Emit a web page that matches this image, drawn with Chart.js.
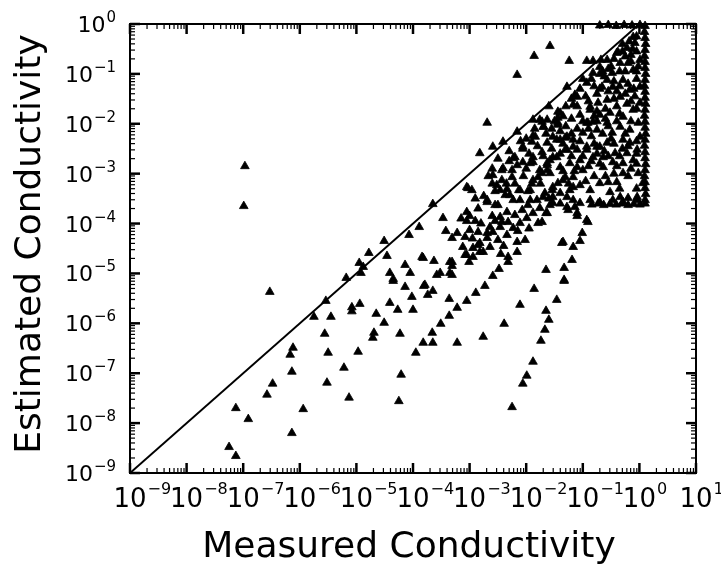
<!DOCTYPE html>
<html>
<head>
<meta charset="utf-8">
<script src="https://cdn.jsdelivr.net/npm/chart.js@4.4.0/dist/chart.umd.min.js"></script>
<style>
  html, body { margin: 0; padding: 0; background: #fff; }
  #wrap { width: 721px; height: 565px; }
</style>
</head>
<body>
<div id="wrap"><canvas id="chart"></canvas></div>
<script>
// log10 of [measured, estimated], grouped by region
const leftScatter = [
  [-6.97,-2.85],[-6.99,-3.65],[-6.53,-5.37],[-5.54,-5.55],[-5.08,-5.68],[-5.08,-5.76],
  [-5.75,-5.87],[-5.45,-5.87],[-5.56,-6.21],[-6.12,-6.49],[-6.17,-6.63],[-5.50,-6.59],
  [-4.97,-6.57],[-6.14,-6.97],[-5.22,-6.89],[-6.48,-7.21],[-5.52,-7.19],[-6.58,-7.43],
  [-5.13,-7.49],[-7.13,-7.70],[-5.94,-7.72],[-6.91,-7.92],[-6.14,-8.20],[-7.25,-8.48],
  [-7.13,-8.66]
];
const middleScatter = [
  [-3.65,-3.61],[-3.47,-3.89],[-3.42,-4.15],[-3.31,-4.29],[-3.89,-4.07],[-4.07,-4.23],
  [-4.51,-4.35],[-4.78,-4.59],[-4.46,-4.65],[-4.95,-4.79],[-4.92,-4.99],[-5.18,-5.09],
  [-4.94,-5.61],[-4.41,-5.59],[-4.65,-5.81],[-4.51,-5.99],[-4.69,-6.19],[-4.71,-6.29],
  [-4.23,-6.21],[-4.27,-5.73],[-4.00,-5.73],[-4.02,-5.47],[-4.41,-4.99],[-4.35,-5.11],
  [-4.14,-5.27],[-4.05,-4.99],[-4.14,-4.83],[-3.84,-4.67],[-3.63,-4.75],[-3.58,-5.03],
  [-3.31,-4.77],[-3.31,-4.85],[-3.31,-5.03],[-3.81,-5.25],[-3.65,-5.35],[-3.74,-5.43],
  [-3.36,-5.51],[-3.22,-5.69],[-3.36,-5.85],[-3.51,-6.01],[-3.66,-6.19],[-3.79,-5.23],
  [-4.35,-5.15],[-3.05,-5.55],[-2.89,-5.39],[-2.73,-5.25],[-3.82,-6.39],[-3.65,-6.39],
  [-3.22,-6.39],[-2.76,-6.27],[-3.95,-6.59],[-2.39,-6.01],[-2.11,-5.63],[-1.86,-5.31],
  [-1.33,-5.15],[-1.46,-5.53],[-1.65,-5.75],[-1.60,-5.93],[-1.67,-6.13],[-1.74,-6.35],
  [-1.88,-6.77],[-1.99,-7.05],[-2.06,-7.21],[-2.25,-7.68],[-4.21,-7.03],[-4.25,-7.56],
  [-3.35,-4.77],[-3.05,-4.63],[-3.01,-4.77],[-2.82,-4.57],[-2.45,-4.61],[-2.16,-4.57],
  [-2.32,-4.77],[-2.48,-4.91],[-2.59,-5.05],[-3.52,-4.99],[-1.65,-4.93],[-1.33,-4.89],
  [-1.19,-4.73],[-1.33,-5.13],[-1.14,-3.67],[-1.10,-3.85],[-0.91,-3.97],[-1.01,-4.19],
  [-1.05,-4.35],[-1.35,-4.37],[-1.17,-4.47],[-1.65,-3.79],[-1.72,-3.97],[-3.82,-4.69],
  [-3.35,-4.99],[-4.88,-4.87]
];
const mainBand = [
  [-2.69,-1.98],[-2.82,-2.59],[-2.59,-2.46],[-2.41,-2.36],[-2.16,-2.16],[-1.72,-1.96],
  [-1.69,-2.06],[-1.88,-2.24],[-1.90,-2.36],[-2.06,-2.50],[-2.23,-2.69],[-2.16,-2.83],
  [-1.88,-2.77],[-1.93,-2.79],[-1.44,-1.76],[-1.44,-1.88],[-1.44,-2.02],[-1.46,-2.32],
  [-1.28,-2.26],[-1.31,-2.52],[-1.58,-2.73],[-2.67,-3.05],[-2.59,-3.03],[-2.43,-2.93],
  [-2.25,-3.07],[-2.43,-3.13],[-1.79,-3.07],[-1.63,-2.93],[-3.05,-3.27],[-2.96,-3.33],
  [-2.46,-3.33],[-2.34,-3.31],[-2.37,-3.43],[-2.29,-3.43],[-2.13,-3.33],[-1.97,-3.35],
  [-2.69,-3.53],[-2.55,-3.63],[-2.50,-3.63],[-2.11,-3.53],[-1.93,-3.53],[-1.81,-3.53],
  [-3.08,-4.63],[-2.94,-4.49],[-2.82,-4.39],[-2.69,-4.29],[-2.59,-4.17],[-2.46,-4.07],
  [-2.32,-3.97],[-2.20,-3.83],[-2.07,-3.73],[-1.97,-3.63],[-1.70,-3.47],[-1.54,-3.33],
  [-1.44,-3.19],[-1.31,-3.07],[-2.94,-4.67],[-2.76,-4.57],[-2.64,-4.47],[-2.50,-4.33],
  [-2.34,-4.23],[-2.23,-4.09],[-2.11,-3.99],[-1.99,-3.89],[-1.88,-3.79],[-1.76,-3.69],
  [-1.63,-3.79],[-1.58,-3.63],[-3.05,-3.95],[-2.90,-3.95],[-3.00,-4.13],[-2.85,-4.17],
  [-3.08,-4.27],[-2.02,-4.33],[-2.16,-4.37],[-1.79,-3.99],[-1.37,-4.39],[-2.32,-4.67],
  [-3.12,-4.47],[-3.03,-3.29],[-2.69,-3.57],[-3.05,-3.77],[-3.22,-4.19],[-2.85,-4.43],
  [-2.69,-4.19],[-2.64,-4.07],[-2.46,-3.87],[-2.34,-3.77],[-2.43,-3.97],[-2.23,-3.53],
  [-2.11,-3.33],[-1.93,-3.33],[-1.88,-3.13],[-1.72,-2.99],[-1.63,-2.83],[-1.53,-2.67],
  [-2.52,-3.23],[-2.41,-2.89],[-2.25,-2.93],[-2.20,-2.67],[-2.06,-2.77],[-1.88,-2.67],
  [-1.72,-2.57],[-2.06,-2.46],[-1.84,-2.26],[-1.70,-2.06],[-1.88,-1.92],[-1.40,-1.78],
  [-1.44,-1.98],[-1.40,-2.32],[-1.17,-2.46],[-1.63,-2.38],
  [-2.35,-3.20],[-2.55,-3.35],[-2.75,-3.45],[-2.85,-3.70],[-2.60,-3.85],[-2.80,-4.00],
  [-3.15,-3.90],[-2.95,-4.30],[-2.55,-3.95],[-2.40,-4.45],[-2.15,-4.15],[-1.95,-4.10],
  [-1.60,-3.50],[-1.40,-3.60],[-1.90,-3.20],[-2.05,-3.05],[-2.00,-2.30],[-2.30,-2.55],
  [-2.50,-2.70],[-1.95,-2.60],[-1.80,-2.45],
  [-1.65,-2.20],[-1.85,-2.10],[-2.10,-2.35],[-2.30,-2.75],[-2.60,-2.90],[-2.00,-2.90],
  [-1.75,-3.20],[-2.20,-3.20],[-2.60,-3.20],[-2.90,-3.50],[-3.00,-3.85]
];
const upperCluster = [
  [-1.58,-0.44],[-1.86,-0.64],[-1.24,-0.74],[-0.93,-0.74],[-0.82,-0.74],[-0.68,-0.72],
  [-2.16,-1.02],[-1.28,-1.26],[-1.10,-1.46],[-1.17,-1.62],[-0.87,-1.72],[-0.70,-1.82],
  [-0.82,-1.96],[-1.00,-2.18],[-0.93,-2.46],[-0.70,-2.46],[-0.82,-2.67],[-1.10,-2.87],
  [-1.40,-2.87],[-1.53,-3.47],[-1.28,-3.47],[-1.17,-3.27],[-1.05,-3.59],[-1.26,-3.73],
  [-0.87,-3.33],[-0.70,-3.19],[-0.55,-3.17],[-0.40,-3.17],[-0.29,-2.99],[-0.02,-2.99],
  [-0.87,-3.53],[-0.70,-3.57],[-0.47,-3.53],[-0.29,-3.57],[-0.04,-3.53],[0.06,-3.19],
  [-0.93,-1.18],[-0.82,-0.98],[-1.14,-1.42],[-0.38,-0.56],[-0.22,-0.48],[-0.08,-0.38],
  [-0.20,-0.78],[-0.34,-0.78],[-0.48,-0.98],[-0.57,-1.12],[-0.66,-1.26],[-0.47,-1.26],
  [-0.29,-1.12],[-0.11,-0.92],[0.01,-0.72],[0.01,-1.26],[-0.17,-1.32],[-0.34,-1.46],
  [-0.57,-1.52],[-0.73,-1.58],[-0.87,-1.66],[-1.05,-1.82],[-0.93,-1.98],[-0.52,-1.78],
  [-0.29,-1.86],[-0.11,-1.72],[0.01,-1.58],[-1.76,-1.92],[-1.63,-1.92],[-0.70,-0.86],
  [-0.57,-0.72],[-0.40,-0.58],[-0.11,-0.26],[-0.05,-0.55],[-0.15,-0.62],[-0.02,-0.85],
  [-1.53,-2.26],[-1.31,-2.28],[-1.17,-2.32],[-0.91,-1.98],[-0.75,-2.12],[-0.57,-1.98],
  [-0.48,-2.18],[-0.34,-2.06],[-0.17,-2.12],[-0.02,-1.98],[0.01,-2.26],[-0.29,-2.32],
  [-0.57,-2.38],[-0.75,-2.46],[-0.93,-2.52],[-1.10,-2.52],[-1.28,-2.52],[-1.46,-2.67],
  [-1.63,-2.79],[-1.76,-2.93],[-1.58,-2.99],[-1.23,-2.79],[-1.05,-2.73],[-0.64,-2.67],
  [-0.43,-2.59],[-0.22,-2.59],[-0.04,-2.52],[-0.17,-2.38],[-0.64,-2.87],[-0.47,-2.77],
  [-0.29,-2.79],[-0.11,-2.73],[-1.00,-2.93],[-1.17,-3.07],[-1.35,-3.13],[-1.53,-3.27],
  [-1.67,-3.39],[-1.40,-3.39],[-1.23,-3.33],[-1.05,-3.23],[-0.52,-3.37],[-0.34,-3.47],
  [-0.20,-3.49],[-0.04,-3.47],[-1.17,-3.53],[-1.28,-3.67],[-1.53,-3.59],[-1.10,-3.79],
  [-0.93,-3.93],
  [-1.20,-1.50],[-1.05,-1.30],[-0.95,-1.45],[-0.80,-1.25],[-0.75,-1.40],[-0.62,-1.05],
  [-0.50,-0.85],[-0.45,-1.15],[-0.40,-1.35],[-0.25,-0.95],[-0.22,-1.60],[-0.05,-1.10],
  [-0.08,-1.45],[-0.40,-1.65],[-0.60,-1.70],[-0.80,-1.85],[-1.20,-1.90],[-1.30,-2.05],
  [-1.10,-2.10],[-0.85,-2.25],[-0.65,-2.20],[-0.45,-2.40],[-0.25,-2.20],[-0.05,-2.35],
  [-0.15,-1.95],[-0.40,-1.95],[-0.62,-2.55],[-0.85,-2.75],[-0.35,-2.65],[-0.05,-2.80],
  [-0.20,-3.05],[-0.45,-3.00],[-0.80,-3.05],[-1.35,-2.40],[-1.55,-2.50],[-1.70,-2.65],
  [-1.55,-2.10],[-1.60,-1.65],[-1.30,-1.65],[-0.30,-0.40],[-0.12,-0.50],[-0.25,-0.65],
  [-0.55,-0.90],[-0.35,-0.95],[-0.15,-0.75],[-0.70,-1.00],[-0.05,-1.70],[-0.55,-2.05],
  [-0.75,-1.95],
  [-1.00,-1.10],[-0.85,-1.10],[-0.65,-0.95],[-0.45,-0.70],[-0.30,-0.55],[-0.18,-0.35],
  [-0.05,-0.25],[-0.05,-0.95],[-0.20,-1.20],[-0.35,-1.25],[-0.55,-1.35],[-0.70,-1.30],
  [-0.90,-1.55],[-1.10,-1.65],[-1.00,-1.95],[-0.75,-1.75],[-0.45,-1.50],[-0.25,-1.40],
  [-0.10,-1.30],[-0.15,-1.55],[-0.35,-1.80],[-0.60,-1.90],[-0.90,-2.10],[-1.20,-2.20],
  [-1.40,-2.15],[-1.05,-2.35],[-0.80,-2.40],[-0.50,-2.30],[-0.20,-2.45],[-0.05,-2.60],
  [-0.30,-2.50],[-0.55,-2.65],[-0.75,-2.60],[-1.00,-2.65],[-1.20,-2.65],[-1.40,-2.60],
  [-1.35,-2.95],[-1.15,-2.95],[-0.90,-2.85],[-0.70,-2.80],[-0.40,-2.85],[-0.15,-2.90],
  [-0.60,-3.05],[-0.95,-3.15],[-1.25,-3.20],[-0.35,-3.30],[-0.05,-3.30],[-1.35,-1.85],
  [-1.50,-1.95]
];
const topRow = [
  [-0.70,-0.03],[-0.55,-0.02],[-0.41,-0.04],[-0.27,-0.02],[-0.13,-0.03],[0.01,-0.02]
];
const floorRow = [
  [-0.84,-3.62],[-0.73,-3.60],[-0.63,-3.63],[-0.52,-3.61],[-0.41,-3.62],[-0.31,-3.60],
  [-0.20,-3.63],[-0.10,-3.61],[0.01,-3.62],[0.10,-3.60]
];
const rightColumn = [
  [0.10,-0.04],[0.09,-0.16],[0.10,-0.28],[0.11,-0.40],[0.10,-0.52],[0.09,-0.64],
  [0.10,-0.76],[0.10,-0.88],[0.11,-1.00],[0.10,-1.12],[0.09,-1.24],[0.10,-1.36],
  [0.10,-1.48],[0.11,-1.60],[0.10,-1.72],[0.09,-1.84],[0.10,-1.96],[0.10,-2.08],
  [0.11,-2.20],[0.10,-2.32],[0.09,-2.44],[0.10,-2.57],[0.10,-2.69],[0.11,-2.81],
  [0.10,-2.93],[0.09,-3.05],[0.10,-3.17],[0.10,-3.29],[0.11,-3.41],[0.10,-3.53]
];
const xTicks = [1e-9,1e-8,1e-7,1e-6,1e-5,1e-4,1e-3,1e-2,1e-1,1e0,1e1];
const yTicks = [1e-9,1e-8,1e-7,1e-6,1e-5,1e-4,1e-3,1e-2,1e-1,1e0];
const minorSteps = [2,3,4,5,6,7,8,9];
const xTitle = 'Measured Conductivity';
const yTitle = 'Estimated Conductivity';

const allPoints = [].concat(leftScatter, middleScatter, mainBand, upperCluster, topRow, floorRow, rightColumn)
  .map(p => ({ x: Math.pow(10, p[0]), y: Math.pow(10, p[1]) }));

const FONT = "'DejaVu Sans', sans-serif";
const expText = v => String(Math.round(Math.log10(v))).replace('-', '\u2212');

// box, inward ticks on all four sides, decade labels and axis titles
const frame = {
  id: 'frame',
  afterDraw(chart) {
    const { ctx, chartArea: a, scales: { x, y } } = chart;
    ctx.save();
    ctx.strokeStyle = '#000';
    ctx.fillStyle = '#000';
    ctx.lineWidth = 2;
    ctx.strokeRect(a.left, a.top, a.right - a.left, a.bottom - a.top);
    const tick = (x1, y1, x2, y2, w) => {
      ctx.lineWidth = w;
      ctx.beginPath(); ctx.moveTo(x1, y1); ctx.lineTo(x2, y2); ctx.stroke();
    };
    xTicks.forEach((d, i) => {
      const px = x.getPixelForValue(d);
      tick(px, a.bottom, px, a.bottom - 10, 2.5);
      tick(px, a.top, px, a.top + 10, 2.5);
      if (i === xTicks.length - 1) return;
      minorSteps.forEach(m => {
        const mx = x.getPixelForValue(d * m);
        tick(mx, a.bottom, mx, a.bottom - 5, 1.2);
        tick(mx, a.top, mx, a.top + 5, 1.2);
      });
    });
    yTicks.forEach((d, i) => {
      const py = y.getPixelForValue(d);
      tick(a.left, py, a.left + 10, py, 2.5);
      tick(a.right, py, a.right - 10, py, 2.5);
      if (i === yTicks.length - 1) return;
      minorSteps.forEach(m => {
        const my = y.getPixelForValue(d * m);
        tick(a.left, my, a.left + 5, my, 1.2);
        tick(a.right, my, a.right - 5, my, 1.2);
      });
    });

    // x decade labels: "10" centred on the tick, exponent raised to its right
    ctx.textBaseline = 'alphabetic';
    xTicks.forEach(d => {
      const px = x.getPixelForValue(d);
      ctx.font = '26px ' + FONT;
      const w = ctx.measureText('10').width;
      ctx.textAlign = 'center';
      ctx.fillText('10', px, a.bottom + 34);
      ctx.font = '16px ' + FONT;
      ctx.textAlign = 'left';
      ctx.fillText(expText(d), px + w / 2 + 1, a.bottom + 21);
    });
    // y decade labels, right aligned
    yTicks.forEach(d => {
      const py = y.getPixelForValue(d);
      ctx.font = '15px ' + FONT;
      const e = expText(d);
      const we = ctx.measureText(e).width;
      ctx.textAlign = 'right';
      ctx.fillText(e, a.left - 14, py - 2);
      ctx.font = '22px ' + FONT;
      ctx.fillText('10', a.left - 15 - we, py + 8);
    });

    ctx.font = '36px ' + FONT;
    ctx.textAlign = 'center';
    ctx.fillText(xTitle, (a.left + a.right) / 2 - 4, 557);
    ctx.translate(40, 244);
    ctx.rotate(-Math.PI / 2);
    ctx.fillText(yTitle, 0, 0);
    ctx.restore();
  }
};

new Chart(document.getElementById('chart'), {
  type: 'scatter',
  data: {
    datasets: [{
      data: allPoints,
      pointStyle: 'triangle',
      pointRadius: 5,
      pointHoverRadius: 5,
      backgroundColor: '#000',
      borderColor: '#000',
      borderWidth: 0.8,
      clip: false
    }, {
      type: 'line',
      data: [{ x: 1e-9, y: 1e-9 }, { x: 1, y: 1 }],
      borderColor: '#000',
      borderWidth: 2,
      pointRadius: 0,
      fill: false
    }]
  },
  options: {
    responsive: true,
    maintainAspectRatio: false,
    animation: false,
    layout: { padding: { top: 24, right: 25, left: 0, bottom: 0 } },
    plugins: { legend: { display: false }, tooltip: { enabled: false } },
    scales: {
      x: {
        type: 'logarithmic',
        min: 1e-9,
        max: 1e1,
        grid: { display: false },
        border: { display: false },
        ticks: { display: false },
        afterFit: s => { s.height = 92; }
      },
      y: {
        type: 'logarithmic',
        min: 1e-9,
        max: 1e0,
        grid: { display: false },
        border: { display: false },
        ticks: { display: false },
        afterFit: s => { s.width = 130; }
      }
    }
  },
  plugins: [frame]
});
</script>
</body>
</html>
